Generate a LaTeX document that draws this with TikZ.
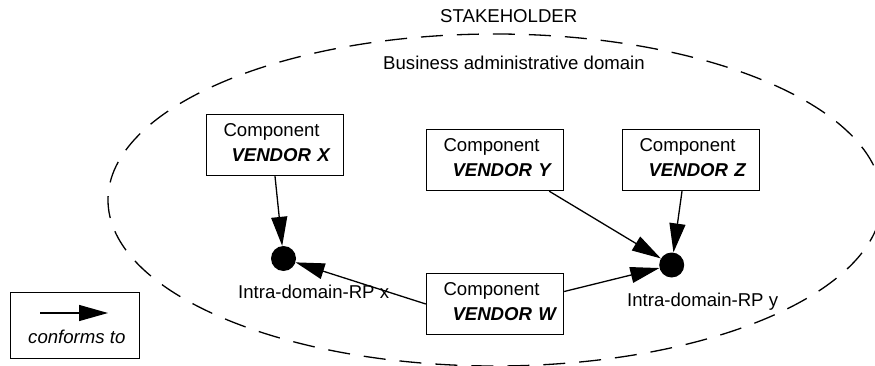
\documentclass[tikz,border=0pt]{standalone}
\usepackage{fontspec}
\setmainfont{Liberation Sans}
\usetikzlibrary{arrows.meta}
\newcommand\diagfont{\fontsize{18.6}{25}\selectfont}
\begin{document}
\begin{tikzpicture}[x=1pt,y=-1pt,
  every node/.style={font=\diagfont},
  comp/.style={draw, line width=1.4pt, rectangle, minimum height=61pt,
    text width=137pt, inner xsep=0pt, inner ysep=0pt, align=left},
  rp/.style={circle, fill=black, minimum size=25pt, inner sep=0pt},
  conn/.style={line width=1.3pt, -{Triangle[length=29pt,width=16pt]}},
  lbl/.style={inner sep=0pt, anchor=base west},
  bounddash/.style={line width=1.3pt, dash pattern=on 22pt off 14pt}]
\useasboundingbox (0,0) rectangle (875,366);
\begin{scope}
  \clip (0,0) rectangle (875,366);
  \draw[bounddash] (495,200) ellipse [x radius=387pt, y radius=166pt];
\end{scope}

\node[lbl] (stk) at (440,23) {STAKEHOLDER};
\node[lbl] (bad) at (383,70) {Business administrative domain};

\node[comp] (X) at (275,145) {\hspace*{17pt}Component\\\hspace*{25pt}\textbf{\textit{VENDOR X}}\rule[-4pt]{0pt}{4pt}};
\node[comp] (Y) at (495,160) {\hspace*{17pt}Component\\\hspace*{26pt}\textbf{\textit{VENDOR Y}}\rule[-4pt]{0pt}{4pt}};
\node[comp] (Z) at (691,160) {\hspace*{17pt}Component\\\hspace*{26pt}\textbf{\textit{VENDOR Z}}\rule[-4pt]{0pt}{4pt}};
\node[comp] (W) at (495,304) {\hspace*{17pt}Component\\\hspace*{26pt}\textbf{\textit{VENDOR W}}\rule[-4pt]{0pt}{4pt}};

\node[rp] (dx) at (283.5,258.5) {};
\node[rp] (dy) at (671.7,265) {};
\node[lbl] (lx) at (238,298) {Intra-domain-RP x};
\node[lbl] (ly) at (627,306) {Intra-domain-RP y};

\draw[conn] (X.south) -- (dx);
\draw[conn] ([xshift=-15pt]Y.south east) -- (dy);
\draw[conn] ([xshift=-9pt]Z.south) -- (dy);
\draw[conn] ([yshift=12.5pt]W.east) -- (dy);
\draw[conn] (W.west) -- (dx);

\node[draw, line width=1.4pt, minimum width=129pt, minimum height=66pt, inner sep=0pt] (leg) at (75,325.5) {};
\coordinate (la) at (40,313);
\coordinate (lb) at (108,313);
\draw[conn] (la) -- (lb);
\node[lbl, font=\diagfont\itshape] (ct) at (28,343) {conforms to};
\end{tikzpicture}
\end{document}
